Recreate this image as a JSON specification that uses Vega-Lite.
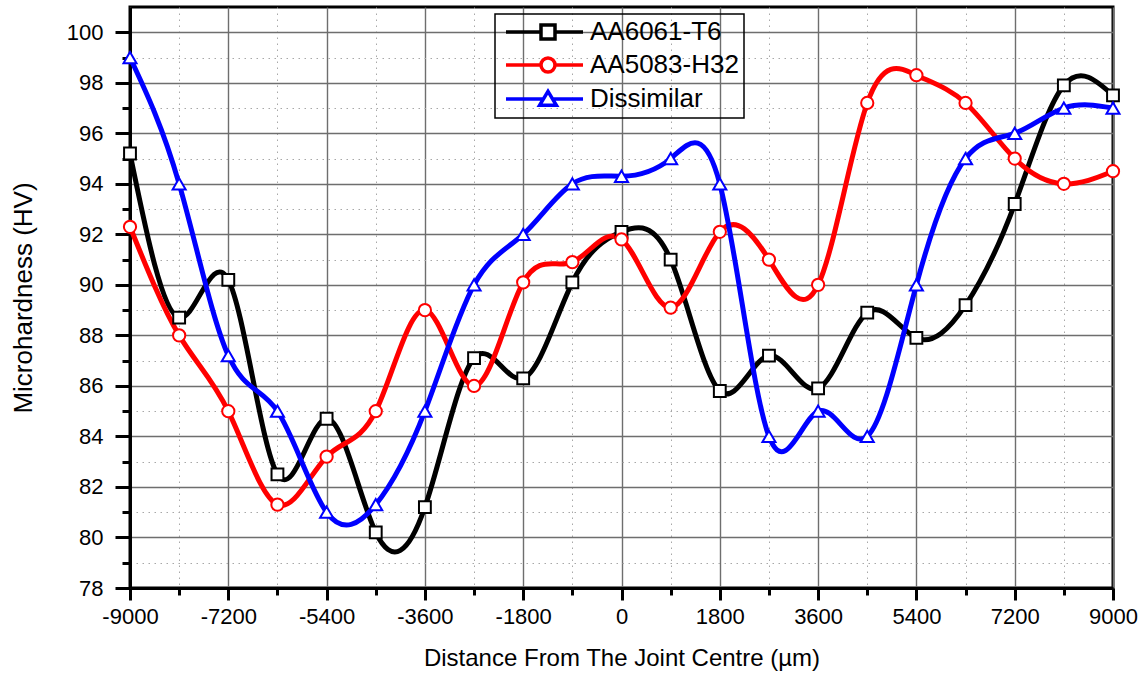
{
  "$schema": "https://vega.github.io/schema/vega-lite/v6.json",
  "width": 983,
  "height": 581,
  "autosize": {"type": "none"},
  "padding": {"left": 130, "top": 7, "right": 34, "bottom": 89},
  "background": "white",
  "config": {
    "view": {"stroke": "black", "strokeWidth": 3},
    "font": "Liberation Sans"
  },
  "data": {
    "values": [
      {"series": "AA6061-T6", "distance": -9000, "hardness": 95.2},
      {"series": "AA6061-T6", "distance": -8100, "hardness": 88.7},
      {"series": "AA6061-T6", "distance": -7200, "hardness": 90.2},
      {"series": "AA6061-T6", "distance": -6300, "hardness": 82.5},
      {"series": "AA6061-T6", "distance": -5400, "hardness": 84.7},
      {"series": "AA6061-T6", "distance": -4500, "hardness": 80.2},
      {"series": "AA6061-T6", "distance": -3600, "hardness": 81.2},
      {"series": "AA6061-T6", "distance": -2700, "hardness": 87.1},
      {"series": "AA6061-T6", "distance": -1800, "hardness": 86.3},
      {"series": "AA6061-T6", "distance": -900, "hardness": 90.1},
      {"series": "AA6061-T6", "distance": 0, "hardness": 92.1},
      {"series": "AA6061-T6", "distance": 900, "hardness": 91.0},
      {"series": "AA6061-T6", "distance": 1800, "hardness": 85.8},
      {"series": "AA6061-T6", "distance": 2700, "hardness": 87.2},
      {"series": "AA6061-T6", "distance": 3600, "hardness": 85.9},
      {"series": "AA6061-T6", "distance": 4500, "hardness": 88.9},
      {"series": "AA6061-T6", "distance": 5400, "hardness": 87.9},
      {"series": "AA6061-T6", "distance": 6300, "hardness": 89.2},
      {"series": "AA6061-T6", "distance": 7200, "hardness": 93.2},
      {"series": "AA6061-T6", "distance": 8100, "hardness": 97.9},
      {"series": "AA6061-T6", "distance": 9000, "hardness": 97.5},
      {"series": "AA5083-H32", "distance": -9000, "hardness": 92.3},
      {"series": "AA5083-H32", "distance": -8100, "hardness": 88.0},
      {"series": "AA5083-H32", "distance": -7200, "hardness": 85.0},
      {"series": "AA5083-H32", "distance": -6300, "hardness": 81.3},
      {"series": "AA5083-H32", "distance": -5400, "hardness": 83.2},
      {"series": "AA5083-H32", "distance": -4500, "hardness": 85.0},
      {"series": "AA5083-H32", "distance": -3600, "hardness": 89.0},
      {"series": "AA5083-H32", "distance": -2700, "hardness": 86.0},
      {"series": "AA5083-H32", "distance": -1800, "hardness": 90.1},
      {"series": "AA5083-H32", "distance": -900, "hardness": 90.9},
      {"series": "AA5083-H32", "distance": 0, "hardness": 91.8},
      {"series": "AA5083-H32", "distance": 900, "hardness": 89.1},
      {"series": "AA5083-H32", "distance": 1800, "hardness": 92.1},
      {"series": "AA5083-H32", "distance": 2700, "hardness": 91.0},
      {"series": "AA5083-H32", "distance": 3600, "hardness": 90.0},
      {"series": "AA5083-H32", "distance": 4500, "hardness": 97.2},
      {"series": "AA5083-H32", "distance": 5400, "hardness": 98.3},
      {"series": "AA5083-H32", "distance": 6300, "hardness": 97.2},
      {"series": "AA5083-H32", "distance": 7200, "hardness": 95.0},
      {"series": "AA5083-H32", "distance": 8100, "hardness": 94.0},
      {"series": "AA5083-H32", "distance": 9000, "hardness": 94.5},
      {"series": "Dissimilar", "distance": -9000, "hardness": 99.0},
      {"series": "Dissimilar", "distance": -8100, "hardness": 94.0},
      {"series": "Dissimilar", "distance": -7200, "hardness": 87.2},
      {"series": "Dissimilar", "distance": -6300, "hardness": 85.0},
      {"series": "Dissimilar", "distance": -5400, "hardness": 81.0},
      {"series": "Dissimilar", "distance": -4500, "hardness": 81.3},
      {"series": "Dissimilar", "distance": -3600, "hardness": 85.0},
      {"series": "Dissimilar", "distance": -2700, "hardness": 90.0},
      {"series": "Dissimilar", "distance": -1800, "hardness": 92.0},
      {"series": "Dissimilar", "distance": -900, "hardness": 94.0},
      {"series": "Dissimilar", "distance": 0, "hardness": 94.3},
      {"series": "Dissimilar", "distance": 900, "hardness": 95.0},
      {"series": "Dissimilar", "distance": 1800, "hardness": 94.0},
      {"series": "Dissimilar", "distance": 2700, "hardness": 84.0},
      {"series": "Dissimilar", "distance": 3600, "hardness": 85.0},
      {"series": "Dissimilar", "distance": 4500, "hardness": 84.0},
      {"series": "Dissimilar", "distance": 5400, "hardness": 90.0},
      {"series": "Dissimilar", "distance": 6300, "hardness": 95.0},
      {"series": "Dissimilar", "distance": 7200, "hardness": 96.0},
      {"series": "Dissimilar", "distance": 8100, "hardness": 97.0},
      {"series": "Dissimilar", "distance": 9000, "hardness": 97.0}
    ]
  },
  "encoding": {
    "x": {
      "field": "distance",
      "type": "quantitative",
      "scale": {"domain": [-9000, 9000], "nice": false, "zero": false},
      "axis": {
        "values": [-9000, -8100, -7200, -6300, -5400, -4500, -3600, -2700, -1800, -900, 0, 900, 1800, 2700, 3600, 4500, 5400, 6300, 7200, 8100, 9000],
        "labelExpr": "datum.value % 1800 === 0 ? '' + datum.value : ''",
        "labelFont": "Liberation Sans",
        "labelFontSize": 22,
        "labelColor": "black",
        "labelPadding": 6,
        "labelFlush": false,
        "labelOverlap": false,
        "labelBound": false,
        "domainColor": "black",
        "domainWidth": 3,
        "tickColor": "black",
        "tickWidth": 3,
        "tickSize": {"condition": {"test": "datum.value % 1800 === 0", "value": 12}, "value": 7},
        "grid": true,
        "gridColor": {"condition": {"test": "datum.value % 1800 === 0", "value": "#6e6e6e"}, "value": "#a8a8a8"},
        "gridDash": {"condition": {"test": "datum.value % 1800 === 0", "value": []}, "value": [1.5, 4.5]},
        "gridWidth": {"condition": {"test": "datum.value % 1800 === 0", "value": 1.4}, "value": 1},
        "title": "Distance From The Joint Centre (µm)",
        "titleFont": "Liberation Sans",
        "titleFontSize": 24,
        "titleFontWeight": "normal",
        "titleColor": "black",
        "titlePadding": 19
      }
    },
    "y": {
      "field": "hardness",
      "type": "quantitative",
      "scale": {"domain": [78, 101], "nice": false, "zero": false},
      "axis": {
        "values": [78, 79, 80, 81, 82, 83, 84, 85, 86, 87, 88, 89, 90, 91, 92, 93, 94, 95, 96, 97, 98, 99, 100],
        "labelExpr": "datum.value % 2 === 0 ? '' + datum.value : ''",
        "labelFont": "Liberation Sans",
        "labelFontSize": 22,
        "labelColor": "black",
        "labelPadding": 12,
        "labelFlush": false,
        "labelOverlap": false,
        "labelBound": false,
        "domainColor": "black",
        "domainWidth": 3,
        "tickColor": "black",
        "tickWidth": 3,
        "tickSize": {"condition": {"test": "datum.value % 2 === 0", "value": 15}, "value": 8},
        "grid": true,
        "gridColor": {"condition": {"test": "datum.value % 2 === 0", "value": "#6e6e6e"}, "value": "#a8a8a8"},
        "gridDash": {"condition": {"test": "datum.value % 2 === 0", "value": []}, "value": [1.5, 4.5]},
        "gridWidth": {"condition": {"test": "datum.value % 2 === 0", "value": 1.4}, "value": 1},
        "title": "Microhardness (HV)",
        "titleFont": "Liberation Sans",
        "titleFontSize": 26,
        "titleFontWeight": "normal",
        "titleColor": "black",
        "titlePadding": 30
      }
    }
  },
  "layer": [
    {
      "mark": {"type": "line", "interpolate": "natural", "strokeWidth": 5},
      "encoding": {
        "stroke": {
          "field": "series",
          "type": "nominal",
          "scale": {
            "domain": ["AA6061-T6", "AA5083-H32", "Dissimilar"],
            "range": ["#000000", "#ff0000", "#0000ff"]
          },
          "legend": {
            "title": null,
            "orient": "none",
            "legendX": 365,
            "legendY": 7,
            "strokeColor": "black",
            "padding": 5,
            "labelFont": "Liberation Sans",
            "labelFontSize": 26,
            "labelColor": "black",
            "labelOffset": 64,
            "rowPadding": 5,
            "symbolSize": 196,
            "symbolStrokeWidth": 3.5,
            "symbolFillColor": "white",
            "encode": {
              "symbols": {
                "update": {
                  "shape": {"signal": "datum.value === 'AA6061-T6' ? 'M-1,0H4M6,0H10M4,-1H6V1H4Z' : datum.value === 'AA5083-H32' ? 'M-1,0H4M6,0H10M6,0A1,1 0 1,1 4,0A1,1 0 1,1 6,0Z' : 'M-1,0H4.34M5.66,0H10M5,-1.1L6.2,0.9H3.8Z'"},
                  "fill": {"value": "white"}
                }
              },
              "legend": {"update": {"strokeWidth": {"value": 1.5}}}
            }
          }
        }
      }
    },
    {
      "transform": [{"filter": "datum.series === 'AA6061-T6'"}],
      "mark": {"type": "point", "shape": "square", "filled": false, "fill": "white", "size": 140, "strokeWidth": 2, "opacity": 1},
      "encoding": {"stroke": {"field": "series", "type": "nominal", "legend": null}}
    },
    {
      "transform": [{"filter": "datum.series === 'AA5083-H32'"}],
      "mark": {"type": "point", "shape": "circle", "filled": false, "fill": "white", "size": 150, "strokeWidth": 2, "opacity": 1},
      "encoding": {"stroke": {"field": "series", "type": "nominal", "legend": null}}
    },
    {
      "transform": [{"filter": "datum.series === 'Dissimilar'"}],
      "mark": {"type": "point", "shape": "triangle-up", "filled": false, "fill": "white", "size": 170, "strokeWidth": 2, "opacity": 1},
      "encoding": {"stroke": {"field": "series", "type": "nominal", "legend": null}}
    }
  ]
}
